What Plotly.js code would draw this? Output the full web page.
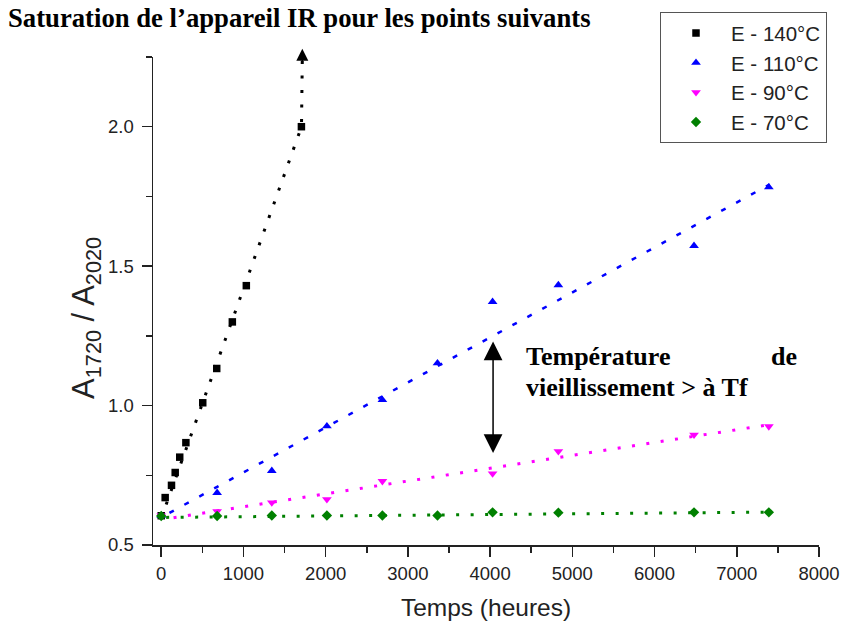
<!DOCTYPE html>
<html>
<head>
<meta charset="utf-8">
<script src="https://cdn.plot.ly/plotly-3.0.1.min.js"></script>
<style>html,body{margin:0;padding:0;background:#fff;}#chart{width:843px;height:626px;}</style>
</head>
<body>
<div id="chart"></div>
<script>
// ---- data ----
const seriesNames = ['E - 140°C', 'E - 110°C', 'E - 90°C', 'E - 70°C'];

const t140 = [0, 48, 125, 170, 225, 300, 505, 675, 865, 1035, 1705];
const a140 = [0.605, 0.670, 0.714, 0.760, 0.815, 0.867, 1.010, 1.133, 1.300, 1.430, 2.000];

const t110 = [0, 680, 1345, 2015, 2690, 3360, 4030, 4830, 6480, 7390];
const a110 = [0.605, 0.687, 0.766, 0.926, 1.020, 1.152, 1.372, 1.432, 1.573, 1.783];

const t90 = [0, 680, 1345, 2015, 2690, 4030, 4830, 6480, 7390];
const a90 = [0.605, 0.621, 0.652, 0.664, 0.729, 0.756, 0.836, 0.895, 0.925];

const t70 = [0, 680, 1345, 2015, 2690, 3360, 4030, 4830, 6480, 7390];
const a70 = [0.604, 0.604, 0.606, 0.606, 0.606, 0.606, 0.617, 0.616, 0.617, 0.617];

// trend lines as drawn in the picture (end points)
const fit140X = [60, 1706, 1716];
const fit140Y = [0.645, 2.000, 2.250];
const fit110X = [100, 7400];
const fit110Y = [0.615, 1.793];
const fit90X = [150, 7400];
const fit90Y = [0.598, 0.932];
const fit70X = [60, 7400];
const fit70Y = [0.599, 0.618];

// saturation arrow tip (top of black trend, slightly above the axis top) and double arrow span
const satArrowTipX = 1716;
const satArrowTipPaperY = 1.017;
const doubleArrowX = 4036;
const doubleArrowY = [0.83, 1.235];

const xTickVals = [0, 1000, 2000, 3000, 4000, 5000, 6000, 7000, 8000];
const yTickVals = [0.5, 1.0, 1.5, 2.0];

// ---- styling ----
const colors = ['#000000', '#0000ff', '#ff00ff', '#008000'];
const symbols = ['square', 'triangle-up', 'triangle-down', 'diamond'];
const sizes = [7.5, 8.5, 8.5, 8];
const sans = 'Liberation Sans, Arial, sans-serif';
const serif = 'Liberation Serif, Times New Roman, serif';

function fitTrace(x, y, color, dash, width) {
  return {x: x, y: y, mode: 'lines', type: 'scatter', showlegend: false, hoverinfo: 'skip',
          line: {color: color, width: width, dash: dash}, cliponaxis: false};
}
function dataTrace(i, x, y) {
  return {x: x, y: y, mode: 'markers', type: 'scatter', name: seriesNames[i],
          marker: {color: colors[i], symbol: symbols[i], size: sizes[i], line: {width: 0}},
          cliponaxis: false};
}

const traces = [
  fitTrace(fit140X, fit140Y, colors[0], '3px,11.5px', 3),
  fitTrace(fit110X, fit110Y, colors[1], '5px,12px', 2.5),
  fitTrace(fit90X, fit90Y, colors[2], '3px,11.5px', 3),
  fitTrace(fit70X, fit70Y, colors[3], '3px,11.5px', 3),
  dataTrace(0, t140, a140),
  dataTrace(1, t110, a110),
  dataTrace(2, t90, a90),
  dataTrace(3, t70, a70)
];

const axisCommon = {
  showgrid: false, zeroline: false, showline: true, linecolor: '#222', linewidth: 1.5,
  ticks: 'outside', ticklen: 10, tickwidth: 1.5, tickcolor: '#222',
  tickfont: {family: sans, size: 18.5, color: '#222'}
};

const layout = {
  width: 843, height: 626,
  margin: {l: 153, r: 24, t: 55, b: 81, pad: 0},
  paper_bgcolor: '#fff', plot_bgcolor: '#fff',
  font: {family: sans, color: '#222'},
  title: {
    text: '<b>Saturation de l\u2019appareil IR pour les points suivants</b>',
    font: {family: serif, size: 26.7, color: '#000'},
    xref: 'container', x: 8 / 843, xanchor: 'left',
    yref: 'container', y: 0.986, yanchor: 'top'
  },
  xaxis: Object.assign({}, axisCommon, {
    range: [-100, 8000], tickvals: xTickVals, ticklabelstandoff: 1,
    minor: {dtick: 500, tick0: 0, ticks: 'outside', ticklen: 6, tickwidth: 1.5, tickcolor: '#222', showgrid: false},
    title: {text: 'Temps (heures)', font: {family: sans, size: 24.5, color: '#222'}, standoff: 16}
  }),
  yaxis: Object.assign({}, axisCommon, {
    range: [0.5, 2.25], tickvals: yTickVals, tickformat: '.1f', ticklabelstandoff: 4,
    minor: {dtick: 0.25, tick0: 0.5, ticks: 'outside', ticklen: 6, tickwidth: 1.5, tickcolor: '#222', showgrid: false},
    title: {text: ''}
  }),
  legend: {
    x: (660 - 153) / 666, y: (545 - 10) / 490, xanchor: 'left', yanchor: 'top',
    bgcolor: '#fff', bordercolor: '#555', borderwidth: 1,
    font: {family: sans, size: 20.5, color: '#222'},
    itemwidth: 60
  },
  showlegend: true,
  annotations: [
    {xref: 'paper', yref: 'paper', x: 0, xshift: -67, y: (545 - 317) / 490,
     text: 'A<sub>1720</sub> / A<sub>2020</sub>', textangle: -90, showarrow: false,
     xanchor: 'center', yanchor: 'middle', font: {family: sans, size: 31, color: '#222'}},
    {xref: 'x', yref: 'paper', x: satArrowTipX, y: satArrowTipPaperY, ax: 0, ay: 16,
     showarrow: true, arrowhead: 2, arrowsize: 1.6, arrowwidth: 1.5, arrowcolor: '#000', text: ''},
    {xref: 'x', yref: 'y', x: doubleArrowX, y: doubleArrowY[0], axref: 'x', ayref: 'y',
     ax: doubleArrowX, ay: doubleArrowY[1], showarrow: true, arrowhead: 2, startarrowhead: 2,
     arrowside: 'end+start', arrowsize: 2.5, startarrowsize: 2.5, arrowwidth: 1.5, arrowcolor: '#000', text: ''},
    {xref: 'x', yref: 'y', x: 4414, y: 1.175, xanchor: 'left', yanchor: 'middle', showarrow: false,
     text: '<b>Température</b>', font: {family: serif, size: 26, color: '#000'}},
    {xref: 'x', yref: 'y', x: 7757, y: 1.175, xanchor: 'right', yanchor: 'middle', showarrow: false,
     text: '<b>de</b>', font: {family: serif, size: 26, color: '#000'}},
    {xref: 'x', yref: 'y', x: 4414, y: 1.064, xanchor: 'left', yanchor: 'middle', showarrow: false,
     text: '<b>vieillissement > à Tf</b>', font: {family: serif, size: 26, color: '#000'}}
  ]
};

Plotly.newPlot('chart', traces, layout, {displayModeBar: false, staticPlot: true});
</script>
</body>
</html>
